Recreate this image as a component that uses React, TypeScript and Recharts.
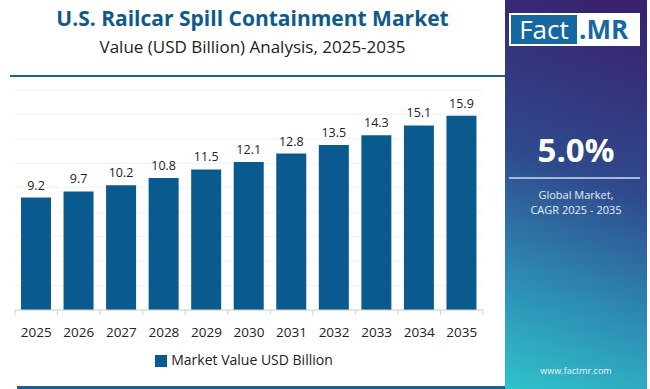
import React from "react"
import { Bar, BarChart, CartesianGrid, LabelList, Legend, XAxis, YAxis } from "recharts"

// chart values
const years = ["2025", "2026", "2027", "2028", "2029", "2030", "2031", "2032", "2033", "2034", "2035"]
const marketValue = [9.2, 9.7, 10.2, 10.8, 11.5, 12.1, 12.8, 13.5, 14.3, 15.1, 15.9]
const yTicks = [0, 2, 4, 6, 8, 10, 12, 14, 16, 18]

const seriesName = "Market Value USD Billion"
const barColor = "#0b5a8f"
const font = "'Open Sans', sans-serif"

const data = years.map((year, i) => ({ year, value: marketValue[i] }))

// tick with boundary tick marks like the original
const YearTick = (props: any) => {
	const { x, y, payload, index } = props
	const half = 42.5 / 2
	return (
		<g>
			<line x1={x - half} y1={y - 8} x2={x - half} y2={y - 3} stroke="#d0d0d0" />
			{index === years.length - 1 && (
				<line x1={x + half} y1={y - 8} x2={x + half} y2={y - 3} stroke="#d0d0d0" />
			)}
			<text x={x} y={y + 19} textAnchor="middle" fill="#222" fontSize={13.5} fontFamily={font}>
				{payload.value}
			</text>
		</g>
	)
}

const App = () => {
	return (
		<div
			style={{
				position: "absolute",
				left: 0,
				top: 0,
				width: 650,
				height: 389,
				background: "#fff",
				overflow: "hidden",
				fontFamily: font
			}}
		>
			{/* title */}
			<div
				style={{
					position: "absolute",
					left: 0,
					width: 505,
					top: 4,
					textAlign: "center",
					fontSize: 21,
					fontWeight: 700,
					color: "#0f5a8a"
				}}
			>
				U.S. Railcar Spill Containment Market
			</div>
			<div
				style={{
					position: "absolute",
					left: 0,
					width: 505,
					top: 35,
					textAlign: "center",
					fontSize: 17,
					color: "#222"
				}}
			>
				Value (USD Billion) Analysis, 2025-2035
			</div>
			<div
				style={{
					position: "absolute",
					left: 10,
					width: 495,
					top: 75,
					height: 2,
					background: "#1d5f8f"
				}}
			/>

			<div style={{ position: "absolute", left: 0, top: 0 }}>
				<BarChart
					width={505}
					height={389}
					data={data}
					margin={{ top: 90, right: 22, left: 15, bottom: 20 }}
					barSize={30}
				>
					<CartesianGrid vertical={false} stroke="#f2f2f2" />
					<YAxis hide domain={[0, 18]} ticks={yTicks} />
					<XAxis
						dataKey="year"
						height={40}
						tickLine={false}
						axisLine={{ stroke: "#d0d0d0" }}
						tick={<YearTick />}
						interval={0}
					/>
					<Legend
						verticalAlign="bottom"
						iconType="square"
						iconSize={12}
						wrapperStyle={{ fontSize: 14, color: "#222", fontFamily: font }}
						formatter={(v: string) => <span style={{ color: "#222" }}>{v}</span>}
					/>
					<Bar dataKey="value" name={seriesName} fill={barColor} isAnimationActive={false}>
						<LabelList dataKey="value" position="top" offset={8} fill="#222" fontSize={12.5} fontFamily={font} />
					</Bar>
				</BarChart>
			</div>

			<div
				style={{
					position: "absolute",
					left: 17,
					width: 488,
					top: 386,
					height: 3,
					background: "#1d5f8f"
				}}
			/>

			{/* right panel */}
			<div
				style={{
					position: "absolute",
					left: 505,
					top: 0,
					width: 142,
					height: 389,
					background: "linear-gradient(200deg, #3a1e6c 0%, #2f4a8c 45%, #2d8eb4 75%, #30c3cb 100%)",
					color: "#fff"
				}}
			>
				<div
					style={{
						position: "absolute",
						left: 4,
						top: 13,
						width: 131,
						height: 33,
						background: "#fff",
						display: "flex",
						alignItems: "center"
					}}
				>
					<div
						style={{
							marginLeft: 2,
							height: 29,
							width: 66,
							background: "#1767a0",
							color: "#fff",
							fontSize: 26,
							lineHeight: "29px",
							textAlign: "center"
						}}
					>
						Fact
					</div>
					<div style={{ color: "#1767a0", fontSize: 26, fontWeight: 700, marginLeft: 2, lineHeight: "29px" }}>.MR</div>
				</div>
				<div
					style={{
						position: "absolute",
						left: 0,
						width: 142,
						top: 127,
						textAlign: "center",
						fontSize: 33,
						fontWeight: 700
					}}
				>
					5.0%
				</div>
				<div
					style={{
						position: "absolute",
						left: 4,
						width: 131,
						top: 177,
						height: 2,
						background: "#a9b8d8"
					}}
				/>
				<div
					style={{
						position: "absolute",
						left: 0,
						width: 142,
						top: 187,
						textAlign: "center",
						fontSize: 11,
						lineHeight: "15px",
						color: "#e8eef7"
					}}
				>
					Global Market,
					<br />
					CAGR 2025 - 2035
				</div>
				<div
					style={{
						position: "absolute",
						left: 0,
						width: 142,
						top: 364,
						textAlign: "center",
						fontSize: 9,
						color: "#f0f0f0"
					}}
				>
					www.factmr.com
				</div>
			</div>
		</div>
	)
}

export default App
